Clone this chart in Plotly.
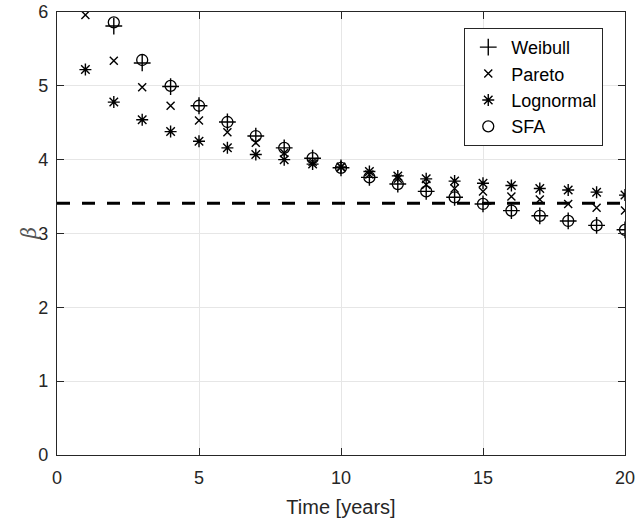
import plotly.graph_objects as go

years = list(range(1, 21))
weibull = [None, 5.81, 5.31, 4.99, 4.73, 4.51, 4.32, 4.16, 4.02, 3.89,
           3.76, 3.67, 3.57, 3.49, 3.40, 3.31, 3.24, 3.17, 3.11, 3.05]
pareto = [5.96, 5.34, 4.98, 4.73, 4.53, 4.37, 4.23, 4.09, 3.97, 3.90,
          3.80, 3.74, 3.66, 3.61, 3.57, 3.50, 3.46, 3.40, 3.35, 3.31]
lognormal = [5.22, 4.78, 4.54, 4.38, 4.25, 4.16, 4.07, 4.00, 3.94, 3.90,
             3.84, 3.78, 3.74, 3.71, 3.68, 3.65, 3.61, 3.59, 3.56, 3.52]
sfa = [None, 5.86, 5.35, 5.00, 4.73, 4.51, 4.32, 4.16, 4.02, 3.89,
       3.76, 3.67, 3.57, 3.49, 3.40, 3.31, 3.24, 3.17, 3.11, 3.05]
threshold_x = [0, 20]
threshold_y = [3.41, 3.41]

FONT = "Liberation Sans, Arial, Helvetica, sans-serif"
fig = go.Figure()

fig.add_trace(go.Scatter(x=threshold_x, y=threshold_y, mode="lines",
                         line=dict(color="black", width=3, dash="13px,12px"),
                         showlegend=False, hoverinfo="skip"))

def add(name, ys, symbol, size, lw):
    fig.add_trace(go.Scatter(x=years, y=ys, mode="markers", name=name,
                             marker=dict(symbol=symbol, size=size, color="black",
                                         line=dict(color="black", width=lw))))

add("Weibull", weibull, "cross-thin", 12, 1.4)
add("Pareto", pareto, "x-thin", 8, 1.4)
add("Lognormal", lognormal, "asterisk", 10, 1.4)
add("SFA", sfa, "circle-open", 11, 1.3)

axis_common = dict(showline=True, linecolor="#262626", linewidth=1.2, mirror="ticks",
                   ticks="inside", ticklen=7, tickcolor="#262626", tickwidth=1.2,
                   showgrid=True, gridcolor="#e6e6e6", gridwidth=1, zeroline=False,
                   automargin=False,
                   tickfont=dict(family=FONT, size=18, color="#262626"))

fig.update_xaxes(range=[0, 20], tickvals=[0, 5, 10, 15, 20],
                 ticklabelstandoff=6,
                 title=dict(text="Time [years]", font=dict(family=FONT, size=20, color="#262626"),
                            standoff=13),
                 **axis_common)
fig.update_yaxes(range=[0, 6], tickvals=[0, 1, 2, 3, 4, 5, 6],
                 ticklabelstandoff=4,
                 **axis_common)

fig.add_annotation(text="<i>β</i>", xref="paper", yref="paper",
                   x=-0.051, y=0.5, xanchor="center", yanchor="middle",
                   textangle=-90, showarrow=False,
                   font=dict(family="DejaVu Serif, serif", size=20, color="#555555"))

fig.update_layout(
    width=638, height=523,
    margin=dict(l=57, r=13, t=12, b=68),
    paper_bgcolor="white", plot_bgcolor="white",
    legend=dict(x=0.717, y=0.964, xanchor="left", yanchor="top",
                bgcolor="white", bordercolor="#262626", borderwidth=1,
                font=dict(family=FONT, size=18, color="black"),
                tracegroupgap=0, itemwidth=36),
)

fig.write_html("out.html")
